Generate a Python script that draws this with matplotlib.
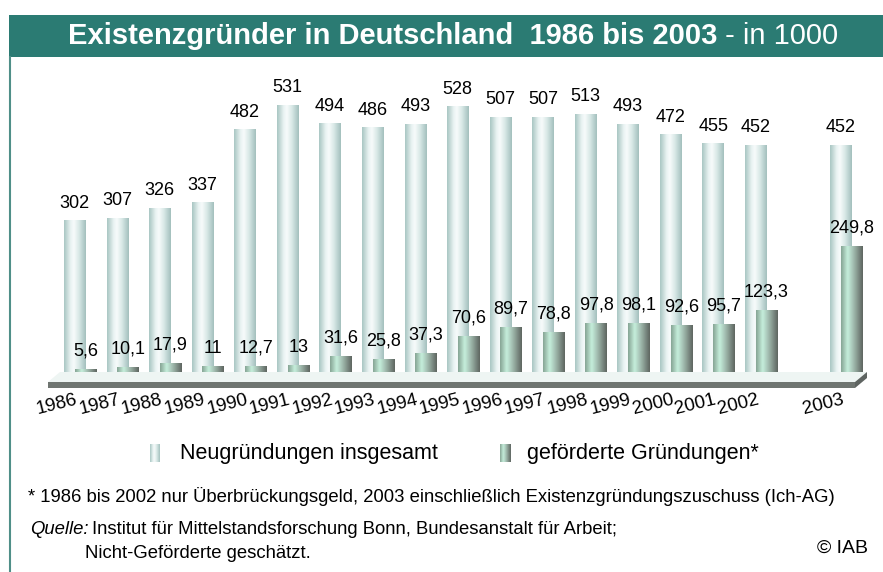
import numpy as np
import matplotlib.pyplot as plt
from matplotlib.colors import LinearSegmentedColormap
from matplotlib.patches import Polygon, Rectangle

plt.rcParams['font.family'] = ['Liberation Sans', 'DejaVu Sans']

# Daten (in 1000)
jahre = ['1986', '1987', '1988', '1989', '1990', '1991', '1992', '1993', '1994',
         '1995', '1996', '1997', '1998', '1999', '2000', '2001', '2002', '2003']
neugruendungen = [302, 307, 326, 337, 482, 531, 494, 486, 493,
                  528, 507, 507, 513, 493, 472, 455, 452, 452]
gefoerdert = [5.6, 10.1, 17.9, 11, 12.7, 13, 31.6, 25.8, 37.3,
              70.6, 89.7, 78.8, 97.8, 98.1, 92.6, 95.7, 123.3, 249.8]

# 2003 steht mit Abstand rechts
pos = np.append(np.arange(17), 18)

W, H = 883, 572
teal = '#2b7b73'
hell = LinearSegmentedColormap.from_list('hell', [(0, '#a9c6c3'), (0.3, '#e9f3f2'), (0.45, '#f7fbfb'),
                                                  (0.7, '#d6e7e5'), (1, '#a3c0bd')])
dunkel = LinearSegmentedColormap.from_list('dunkel', [(0, '#86a494'), (0.3, '#c6efdc'), (0.55, '#a5c0b3'),
                                                      (1, '#5e6560')])
grad = np.linspace(0, 1, 64).reshape(1, -1)

fig = plt.figure(figsize=(W / 100, H / 100), dpi=100)

# Hintergrund / Deko in Pixelkoordinaten
deco = fig.add_axes([0, 0, 1, 1])
deco.axis('off')
deco.add_patch(Rectangle((9, 15), 880, 42, color=teal, lw=0))
deco.plot([9.5, 9.5], [57, H], color='#4f8f88', lw=1.5)
t1 = deco.text(68, 36, 'Existenzgründer in Deutschland  1986 bis 2003', color='white',
               fontsize=21, fontweight='bold', va='center')
deco.annotate(' - in 1000', xy=(1, 0.5), xycoords=t1, color='white', fontsize=21, va='center')

# Bodenplatte
deco.add_patch(Polygon([(48, 382), (60, 372), (867, 372), (855, 382)], closed=True, color='#eef5f3', lw=0))
deco.add_patch(Polygon([(48, 382), (855, 382), (855, 388), (48, 388)], closed=True, color='#6f7571', lw=0))
deco.add_patch(Polygon([(855, 382), (867, 372), (867, 378), (855, 388)], closed=True, color='#5e6461', lw=0))

# Legende
deco.imshow(grad, cmap=hell, extent=(150, 160, 462, 444), aspect='auto', interpolation='bicubic')
deco.imshow(grad, cmap=dunkel, extent=(500, 511, 462, 444), aspect='auto', interpolation='bicubic')
deco.text(180, 453, 'Neugründungen insgesamt', fontsize=15.5, va='center')
deco.text(527, 453, 'geförderte Gründungen*', fontsize=15.5, va='center')

# Fussnoten
deco.text(28, 497, '* 1986 bis 2002 nur Überbrückungsgeld, 2003 einschließlich Existenzgründungszuschuss (Ich-AG)',
          fontsize=13.3, va='center')
deco.text(30, 530, 'Quelle:', fontsize=13.3, style='italic', va='center')
deco.text(92, 530, 'Institut für Mittelstandsforschung Bonn, Bundesanstalt für Arbeit;', fontsize=13.3, va='center')
deco.text(85, 553, 'Nicht-Geförderte geschätzt.', fontsize=13.3, va='center')
deco.text(868, 548, '© IAB', fontsize=14, ha='right', va='center')
deco.set_xlim(0, W)
deco.set_ylim(H, 0)

# Diagramm
ax = fig.add_axes([48 / W, 200 / H, (867 - 48) / W, 312 / H])
ax.patch.set_alpha(0)
ax.axis('off')

b1 = ax.bar(pos - 0.125, neugruendungen, width=0.5, color='#d6e7e5', lw=0, zorder=2)
b2 = ax.bar(pos + 0.125, gefoerdert, width=0.5, color='#a5c0b3', lw=0, zorder=4)


def fill_gradient(bars, cmap, z):
    for b in bars:
        x0, y0, w, h = b.get_x(), b.get_y(), b.get_width(), b.get_height()
        im = ax.imshow(grad, cmap=cmap, extent=(x0, x0 + w, y0, y0 + h), aspect='auto',
                       interpolation='bicubic', zorder=z)
        im.set_clip_path(b)


fill_gradient(b1, hell, 3)
fill_gradient(b2, dunkel, 5)

for p, v in zip(pos, neugruendungen):
    ax.annotate(str(v), xy=(p - 0.125, v), xytext=(0, 17), textcoords='offset pixels',
                ha='center', va='center', fontsize=13)
for p, v in zip(pos, gefoerdert):
    ax.annotate(f'{v:g}'.replace('.', ','), xy=(p + 0.125, v), xytext=(0, 18), textcoords='offset pixels',
                ha='center', va='center', fontsize=13)
for p, j in zip(pos, jahre):
    ax.annotate(j, xy=(p, 0), xytext=(-23, -33), textcoords='offset pixels',
                rotation=14, ha='center', va='center', fontsize=13.5)

ax.set_xlim(-0.752, 18.49)
ax.set_ylim(0, 620)

fig.savefig('out.png', dpi=100)
